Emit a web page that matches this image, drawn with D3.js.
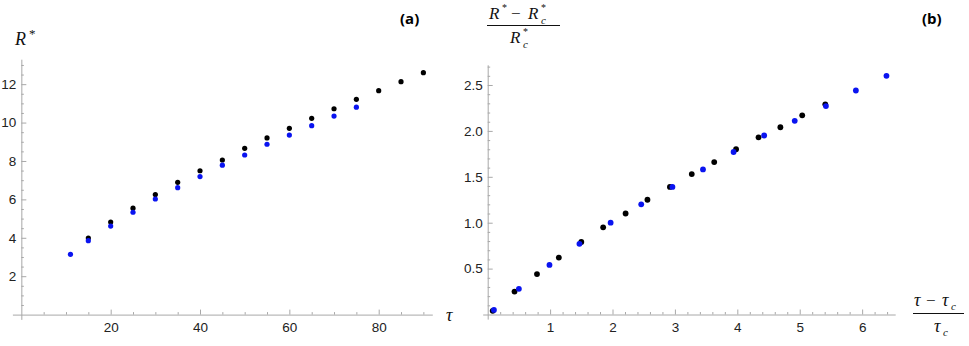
<!DOCTYPE html>
<html>
<head>
<meta charset="utf-8">
<script src="https://cdn.jsdelivr.net/npm/d3@7"></script>
<style>
  body { margin: 0; background: #fff; }
  svg { display: block; }
  .axis path, .axis line { stroke: #a8a8a8; }
  .axis text { font-family: "Liberation Sans", Arial, sans-serif; font-size: 13.5px; fill: #222; }
  .lab { font-family: "Liberation Serif", "Times New Roman", serif; font-style: italic; fill: #111; }
  .up { font-family: "Liberation Serif", serif; font-style: normal; fill: #111; }
  .tag { font-family: "Open Sans", sans-serif; font-weight: bold; font-size: 15px; fill: #000; }
</style>
</head>
<body>
<svg width="969" height="346"></svg>
<script>
// panel (a): R* against tau
var tauBlack = [15, 20, 25, 30, 35, 40, 45, 50, 55, 60, 65, 70, 75, 80, 85, 90],
    rBlack   = [3.99, 4.82, 5.54, 6.25, 6.89, 7.49, 8.05, 8.66, 9.20, 9.70, 10.22, 10.72, 11.21, 11.66, 12.13, 12.60],
    tauBlue  = [11, 15, 20, 25, 30, 35, 40, 45, 50, 55, 60, 65, 70, 75],
    rBlue    = [3.14, 3.85, 4.61, 5.33, 6.02, 6.61, 7.19, 7.78, 8.31, 8.87, 9.35, 9.84, 10.34, 10.80];

// panel (b): scaled values
var sxBlack = [0.08, 0.43, 0.79, 1.14, 1.50, 1.85, 2.21, 2.56, 2.92, 3.27, 3.63, 3.98, 4.34, 4.69, 5.04, 5.41],
    syBlack = [0.04, 0.25, 0.44, 0.62, 0.79, 0.95, 1.10, 1.25, 1.39, 1.53, 1.66, 1.80, 1.93, 2.04, 2.17, 2.29],
    sxBlue  = [0.10, 0.50, 0.99, 1.47, 1.97, 2.46, 2.96, 3.45, 3.94, 4.43, 4.92, 5.42, 5.90, 6.39],
    syBlue  = [0.05, 0.28, 0.54, 0.77, 1.00, 1.20, 1.39, 1.58, 1.77, 1.95, 2.11, 2.27, 2.44, 2.60];

var ticksA_x = [20, 40, 60, 80],
    ticksA_y = [2, 4, 6, 8, 10, 12],
    ticksB_x = [1, 2, 3, 4, 5, 6],
    ticksB_y = [0.5, 1.0, 1.5, 2.0, 2.5];

var svg = d3.select("svg");

function minor(lo, hi, step, major) {
  var out = [];
  for (var i = Math.ceil(lo / step); i * step <= hi + 1e-9; i++) {
    var v = +(i * step).toFixed(6);
    if (major.indexOf(v) < 0 && v !== 0) out.push(v);
  }
  return out;
}

function panel(o) {
  var x = d3.scaleLinear().domain(o.xd).range(o.xr),
      y = d3.scaleLinear().domain(o.yd).range(o.yr),
      g = svg.append("g");

  // minor ticks
  g.append("g").attr("class", "axis")
      .attr("transform", "translate(0," + y(0) + ")")
      .call(d3.axisBottom(x).tickValues(minor(0, o.xd[1], o.xm, o.xt)).tickSizeInner(-2.5).tickSizeOuter(0).tickFormat(""))
      .select(".domain").remove();
  g.append("g").attr("class", "axis")
      .attr("transform", "translate(" + x(0) + ",0)")
      .call(d3.axisLeft(y).tickValues(minor(0, o.yd[1], o.ym, o.yt)).tickSizeInner(-2.5).tickSizeOuter(0).tickFormat(""))
      .select(".domain").remove();

  // major ticks + axis lines
  g.append("g").attr("class", "axis")
      .attr("transform", "translate(0," + y(0) + ")")
      .call(d3.axisBottom(x).tickValues(o.xt).tickSizeInner(-5).tickSizeOuter(0).tickPadding(8).tickFormat(o.xf));
  g.append("g").attr("class", "axis")
      .attr("transform", "translate(" + x(0) + ",0)")
      .call(d3.axisLeft(y).tickValues(o.yt).tickSizeInner(-5).tickSizeOuter(0).tickPadding(5).tickFormat(o.yf));

  o.series.forEach(function(s) {
    g.append("g").selectAll("circle")
      .data(s.xs)
      .join("circle")
        .attr("cx", function(d) { return x(d); })
        .attr("cy", function(d, i) { return y(s.ys[i]); })
        .attr("r", o.r)
        .attr("fill", s.color);
  });
  return g;
}

panel({
  xd: [-2, 92], xr: [12.4, 432.3],
  yd: [-0.25, 13.3], yr: [319.4, 59.2],
  xt: ticksA_x, yt: ticksA_y, xm: 5, ym: 0.5,
  xf: d3.format("d"), yf: d3.format("d"), r: 2.6,
  series: [
    {xs: tauBlack, ys: rBlack, color: "#000"},
    {xs: tauBlue, ys: rBlue, color: "#0a14f0"}
  ]
});

panel({
  xd: [-0.08, 6.53], xr: [482.7, 895.2],
  yd: [-0.05, 2.72], yr: [319.1, 64.8],
  xt: ticksB_x, yt: ticksB_y, xm: 0.2, ym: 0.1,
  xf: d3.format("d"), yf: d3.format(".1f"), r: 2.9,
  series: [
    {xs: sxBlack, ys: syBlack, color: "#000"},
    {xs: sxBlue, ys: syBlue, color: "#0a14f0"}
  ]
});

// small helper for math-ish labels
function t(x, y, str, size, cls) {
  return svg.append("text").attr("class", cls || "lab")
    .attr("x", x).attr("y", y).style("font-size", size + "px").text(str);
}

t(400, 24, "(a)", 15, "tag");
t(922, 24, "(b)", 15, "tag");

// R*
t(15, 45, "R", 18);
t(29, 38, "*", 13, "up");

// tau on x axis of (a)
t(446, 321, "τ", 18);

// (b) y label: (R* - Rc*) / Rc*
t(489, 19, "R", 17);
t(502, 11, "*", 10, "up");
t(511, 19, "−", 17, "up");
t(528, 19, "R", 17);
t(541, 11, "*", 10, "up");
t(541, 24, "c", 11);
svg.append("line").attr("x1", 487).attr("x2", 560).attr("y1", 25.5).attr("y2", 25.5)
  .attr("stroke", "#111").attr("stroke-width", 1);
t(510, 43, "R", 17);
t(523, 35, "*", 10, "up");
t(523, 48, "c", 11);

// (b) x label: (tau - tau_c) / tau_c
t(914, 306, "τ", 18);
t(926, 306, "−", 17, "up");
t(942, 306, "τ", 18);
t(951, 310, "c", 11);
svg.append("line").attr("x1", 913).attr("x2", 964).attr("y1", 313.5).attr("y2", 313.5)
  .attr("stroke", "#111").attr("stroke-width", 1);
t(934, 332, "τ", 18);
t(943, 336, "c", 11);
</script>
</body>
</html>
